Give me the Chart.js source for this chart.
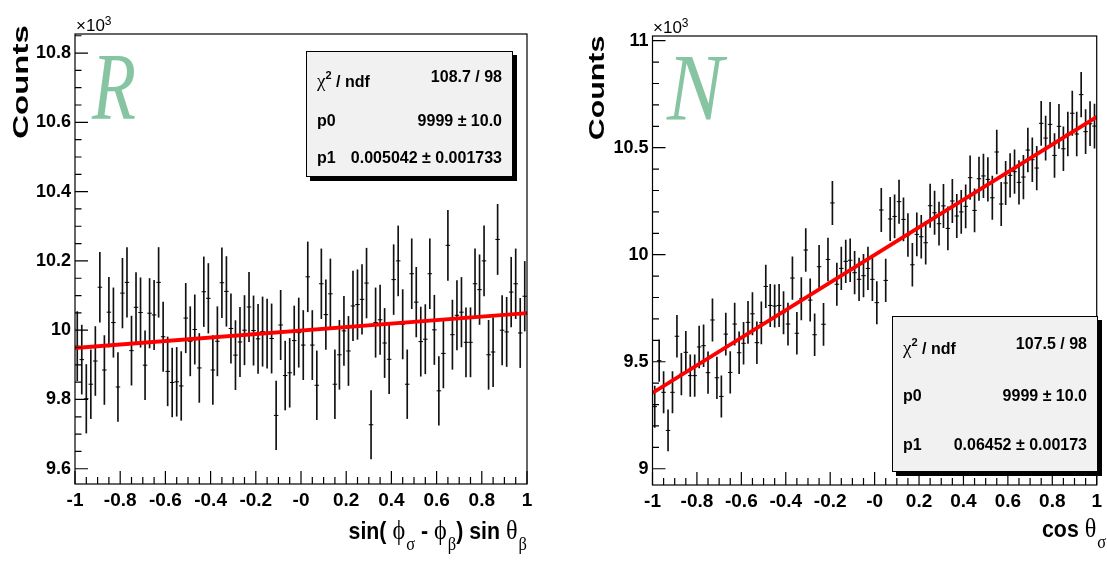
<!DOCTYPE html>
<html>
<head>
<meta charset="utf-8">
<script src="https://cdn.jsdelivr.net/npm/chart.js@4.4.1/dist/chart.umd.min.js"></script>
<style>
  html, body { margin:0; padding:0; background:#fff; }
  body { position:relative; width:1107px; height:561px; overflow:hidden;
         font-family:"Liberation Sans", Arial, sans-serif; color:#000; }
  canvas { position:absolute; top:0; }
  #cR { left:0; }
  #cN { left:553px; }
  .bold { font-family:"Liberation Sans",Arial,sans-serif; font-weight:bold; }
  .g { font-family:"Liberation Serif","DejaVu Serif",serif; font-weight:normal; }
  .xtitle .g { font-size:25px; }
  .xtitle .sub { position:relative; top:10px; font-size:17px; margin-left:1px; }
  .xtitle { position:absolute; font-size:22px; line-height:26px; white-space:nowrap;
            transform:scale(0.97,1.12); transform-origin:right bottom; }
  .ytitle { position:absolute; font-size:22px; line-height:22px; white-space:nowrap; }
  .exp { position:absolute; font-family:"Liberation Sans",Arial,sans-serif;
         font-size:17px; line-height:17px; white-space:nowrap; }
  .exp span { position:relative; top:-6px; font-size:12px; }
  .letter { position:absolute; font-family:"Liberation Serif","DejaVu Serif",serif; font-style:italic;
            font-size:96px; line-height:96px; color:#86c4a2; transform-origin:left top; }
  .stats { position:absolute; background:#f1f1f1; border:1px solid #000; box-shadow:4px 4px 0 #000;
           font-weight:bold; font-size:16px; }
  .stats .row { position:absolute; left:10px; right:10px; height:20px; line-height:20px; }
  .stats .lab { position:absolute; left:0; white-space:nowrap; }
  .stats .val { position:absolute; right:0; white-space:nowrap; }
  .stats .g { font-size:19px; }
  .stats sup { font-size:11px; position:relative; top:-2px; }
</style>
</head>
<body>
<canvas id="cR" width="553" height="561"></canvas>
<canvas id="cN" width="554" height="561"></canvas>

<div class="letter" style="left:92px;top:39px;transform:scaleX(0.75)">R</div>
<div class="letter" style="left:667px;top:40px;transform:scaleX(0.88)">N</div>

<div class="exp" style="left:76px;top:17px">×10<span>3</span></div>
<div class="exp" style="left:653px;top:19px">×10<span>3</span></div>

<div class="ytitle bold" style="left:21px;top:82px;transform:translate(-50%,-50%) rotate(-90deg) scaleX(1.5)">Counts</div>
<div class="ytitle bold" style="left:597px;top:88px;transform:translate(-50%,-50%) rotate(-90deg) scaleX(1.38)">Counts</div>

<div class="xtitle bold" style="right:580px;top:519px">sin( <span class="g">ϕ</span><span class="g sub">σ</span> - <span class="g">ϕ</span><span class="g sub">β</span>) sin <span class="g">θ</span><span class="g sub">β</span></div>
<div class="xtitle bold" style="right:1px;top:517px">cos <span class="g">θ</span><span class="g sub">σ</span></div>

<div class="stats" style="left:306px;top:51px;width:205px;height:124px">
  <div class="row" style="top:15px"><span class="lab"><span class="g">χ</span><sup>2</sup> / ndf</span><span class="val">108.7 / 98</span></div>
  <div class="row" style="top:59px"><span class="lab">p0</span><span class="val">9999 ± 10.0</span></div>
  <div class="row" style="top:96px"><span class="lab">p1</span><span class="val">0.005042 ± 0.001733</span></div>
</div>
<div class="stats" style="left:892px;top:316px;width:204px;height:154px">
  <div class="row" style="top:17px"><span class="lab"><span class="g">χ</span><sup>2</sup> / ndf</span><span class="val">107.5 / 98</span></div>
  <div class="row" style="top:69px"><span class="lab">p0</span><span class="val">9999 ± 10.0</span></div>
  <div class="row" style="top:118px"><span class="lab">p1</span><span class="val">0.06452 ± 0.00173</span></div>
</div>

<script>
// Histogram binning: 100 bins on [-1, 1]
const binLow = -1, binHigh = 1, nBins = 100;
const binCentres = Array.from({ length: nBins }, (_, i) => binLow + (i + 0.5) * (binHigh - binLow) / nBins);

// Bin contents, left histogram (R asymmetry variable)
const countsR = [
  9954, 9915, 9802, 9844, 9911, 10124, 9885, 10052, 10022, 9836,
  10107, 10138, 9941, 10066, 10051, 9899, 10049, 10044, 10138, 9981,
  9881, 9849, 9851, 9839, 10035, 9968, 10002, 9891, 10111, 10092,
  9885, 9968, 10137, 10112, 10005, 9928, 9966, 10000, 10067, 9999,
  9975, 9996, 9990, 9976, 9754, 10015, 9869, 9877, 9970, 9993,
  9957, 10154, 9957, 9841, 10134, 10045, 10105, 9844, 9929, 9998,
  9940, 10070, 10074, 10089, 10136, 9727, 10022, 10030, 9963, 9916,
  10146, 10200, 10017, 9844, 10163, 10081, 9967, 9974, 10163, 10001,
  9825, 9933, 10245, 9987, 10043, 10052, 9965, 9965, 10134, 10117,
  10200, 9929, 9937, 10262, 10000, 9995, 10110, 10134, 9992, 10098
];

// Bin contents, right histogram (N asymmetry variable)
const countsN = [
  9290, 9505, 9357, 9179, 9357, 9619, 9442, 9544, 9435, 9435,
  9569, 9575, 9449, 9695, 9425, 9338, 9629, 9450, 9676, 9542,
  9586, 9684, 9724, 9589, 9682, 9852, 9763, 9760, 9763, 9729,
  9676, 9891, 9633, 9794, 10022, 9788, 9626, 9944, 9675, 9978,
  10242, 9862, 9936, 9969, 9974, 9916, 9885, 9902, 9936, 9885,
  9776, 10209, 9880, 10167, 10179, 10248, 10165, 10092, 9953, 10095,
  10084, 10056, 10229, 10196, 10145, 10228, 10123, 10251, 10181, 10200,
  10226, 10360, 10207, 10355, 10368, 10352, 10266, 10480, 10237, 10335,
  10371, 10388, 10338, 10363, 10489, 10444, 10405, 10614, 10545, 10609,
  10464, 10600, 10495, 10564, 10661, 10564, 10748, 10575, 10612, 10601
];

// Fit results p0 * (1 + p1 * x)
const fitR = { p0: 9999, p1: 0.005042 };
const fitN = { p0: 9999, p1: 0.06452 };

// Axis ticks
const xTickValues = [-1, -0.8, -0.6, -0.4, -0.2, 0, 0.2, 0.4, 0.6, 0.8, 1];
const xTickLabels = ['-1', '-0.8', '-0.6', '-0.4', '-0.2', '-0', '0.2', '0.4', '0.6', '0.8', '1'];
const yTickValuesR = [9600, 9800, 10000, 10200, 10400, 10600, 10800];
const yTickLabelsR = ['9.6', '9.8', '10', '10.2', '10.4', '10.6', '10.8'];
const yTickValuesN = [9000, 9500, 10000, 10500, 11000];
const yTickLabelsN = ['9', '9.5', '10', '10.5', '11'];

const fontStack = '"Liberation Sans", Arial, sans-serif';

// Frame with inward major/minor tick marks, drawn from the chart's own scales
const rootAxes = {
  id: 'rootAxes',
  afterDatasetsDraw(chart, _args, o) {
    const { ctx, chartArea: a, scales: { x, y } } = chart;
    ctx.save();
    ctx.strokeStyle = '#000';
    ctx.lineWidth = 1.2;
    ctx.strokeRect(a.left, a.top, a.right - a.left, a.bottom - a.top);
    ctx.beginPath();
    const marks = (scale, step) => {
      const out = [];
      const start = Math.ceil(scale.min / step - 1e-9);
      const end = Math.floor(scale.max / step + 1e-9);
      for (let k = start; k <= end; k++) out.push(k * step);
      return out;
    };
    marks(x, o.xMinor).forEach(v => {
      const px = x.getPixelForValue(v);
      const major = xTickValues.some(t => Math.abs(t - v) < 1e-9);
      ctx.moveTo(px, a.bottom);
      ctx.lineTo(px, a.bottom - (major ? 13 : 7));
    });
    marks(y, o.yMinor).forEach(v => {
      const py = y.getPixelForValue(v);
      const major = o.yMajor.some(t => Math.abs(t - v) < 1e-6);
      ctx.moveTo(a.left, py);
      ctx.lineTo(a.left + (major ? 13 : 6.5), py);
    });
    ctx.stroke();
    ctx.restore();
  }
};

function histChart(id, counts, fit, cfg) {
  const points = binCentres.map((x, i) => ({ x, y: counts[i] }));
  const errors = binCentres.map((x, i) => ({ x, y: [counts[i] - Math.sqrt(counts[i]), counts[i] + Math.sqrt(counts[i])] }));
  const fitLine = [binLow, binHigh].map(x => ({ x, y: fit.p0 * (1 + fit.p1 * x) }));
  return new Chart(document.getElementById(id), {
    type: 'bar',
    data: {
      datasets: [
        { type: 'line', data: fitLine, borderColor: '#ff0000', borderWidth: 3.8, pointRadius: 0, order: 0 },
        { type: 'scatter', data: points, pointStyle: 'line', radius: 2.25, borderColor: '#000', borderWidth: 1, order: 1 },
        { type: 'bar', data: errors, backgroundColor: '#111', borderWidth: 0, barThickness: 1, order: 2 }
      ]
    },
    options: {
      responsive: false,
      animation: false,
      events: [],
      layout: { padding: { top: cfg.top, right: cfg.right, left: 0, bottom: 0 } },
      plugins: { legend: { display: false }, tooltip: { enabled: false }, rootAxes: cfg.axes },
      scales: {
        x: {
          type: 'linear', min: binLow, max: binHigh, offset: false,
          grid: { display: false, drawTicks: false }, border: { display: false },
          afterBuildTicks: s => { s.ticks = xTickValues.map(value => ({ value })); },
          afterFit: s => { s.height = cfg.xHeight; },
          ticks: { autoSkip: false, maxRotation: 0, padding: 5, color: '#000',
                   font: { family: fontStack, weight: 'bold', size: 19 },
                   callback: (v, i) => xTickLabels[i] }
        },
        y: {
          type: 'linear', min: cfg.yMin, max: cfg.yMax,
          grid: { display: false, drawTicks: false }, border: { display: false },
          afterBuildTicks: s => { s.ticks = cfg.yTicks.map(value => ({ value })); },
          afterFit: s => { s.width = cfg.yWidth; },
          ticks: { autoSkip: false, padding: 4, color: '#000',
                   font: { family: fontStack, weight: 'bold', size: 18 },
                   callback: (v, i) => cfg.yLabels[i] }
        }
      }
    },
    plugins: [rootAxes]
  });
}

histChart('cR', countsR, fitR, {
  top: 34, right: 26, xHeight: 77, yWidth: 75,
  yMin: 9556, yMax: 10855, yTicks: yTickValuesR, yLabels: yTickLabelsR,
  axes: { xMinor: 0.05, yMinor: 50, yMajor: yTickValuesR }
});
histChart('cN', countsN, fitN, {
  top: 36, right: 4.4, xHeight: 76, yWidth: 99.5,
  yMin: 8924, yMax: 11022, yTicks: yTickValuesN, yLabels: yTickLabelsN,
  axes: { xMinor: 0.05, yMinor: 100, yMajor: yTickValuesN }
});
</script>
</body>
</html>
